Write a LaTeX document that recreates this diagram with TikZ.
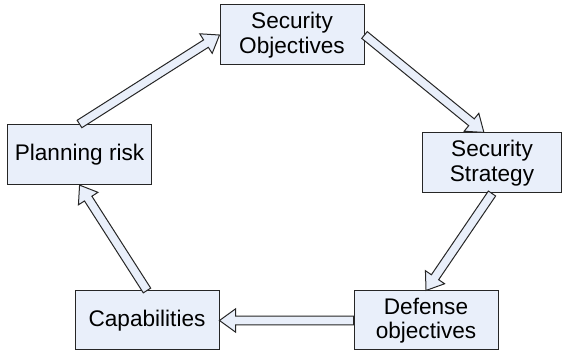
\documentclass[tikz,border=0pt]{standalone}
\usepackage{fontspec}
\setmainfont{Liberation Sans}
\usetikzlibrary{calc}
\definecolor{boxfill}{RGB}{233,239,250}
\tikzstyle{box} = [draw=black!85, line width=0.5pt, fill=boxfill, align=center,
  minimum width=72pt, minimum height=30pt, inner sep=1pt,
  font=\fontsize{11.3}{12.2}\selectfont]
\tikzstyle{blockarrow} = [draw=black!85, line width=0.5pt, fill=boxfill, line join=miter]
% hollow block arrow from one point to another
\newcommand{\blockarrow}[2]{%
  \path[blockarrow] let \p1=(#1), \p2=(#2),
    \n1={atan2(\y2-\y1,\x2-\x1)}, \n2={veclen(\x2-\x1,\y2-\y1)} in
    [shift={(\p1)}, rotate=\n1]
    (0pt,-2.2pt) -- (\n2-8pt,-2.2pt) -- (\n2-8pt,-5.8pt) -- (\n2,0pt)
    -- (\n2-8pt,5.8pt) -- (\n2-8pt,2.2pt) -- (0pt,2.2pt) -- cycle;}

\begin{document}
\begin{tikzpicture}[x=0.5pt, y=-0.5pt]
  \useasboundingbox (0,0) rectangle (563,352);
  \node[box] (so) at (292,35) {Security\\Objectives};
  \node[box, minimum width=69.5pt] (ss) at (492,163) {Security\\Strategy};
  \node[box, minimum height=29.5pt] (do) at (426,320.5) {Defense\\objectives};
  \node[box, minimum height=29.5pt] (cap) at (147,320.5) {Capabilities};
  \node[box] (pr) at (79.5,154.5) {Planning risk};
  \blockarrow{pr.north}{so.west}
  \blockarrow{so.east}{$(ss.north)+(-8,0)$}
  \blockarrow{ss.south}{do.north}
  \blockarrow{do.west}{cap.east}
  \blockarrow{cap.north}{pr.south}
\end{tikzpicture}
\end{document}
